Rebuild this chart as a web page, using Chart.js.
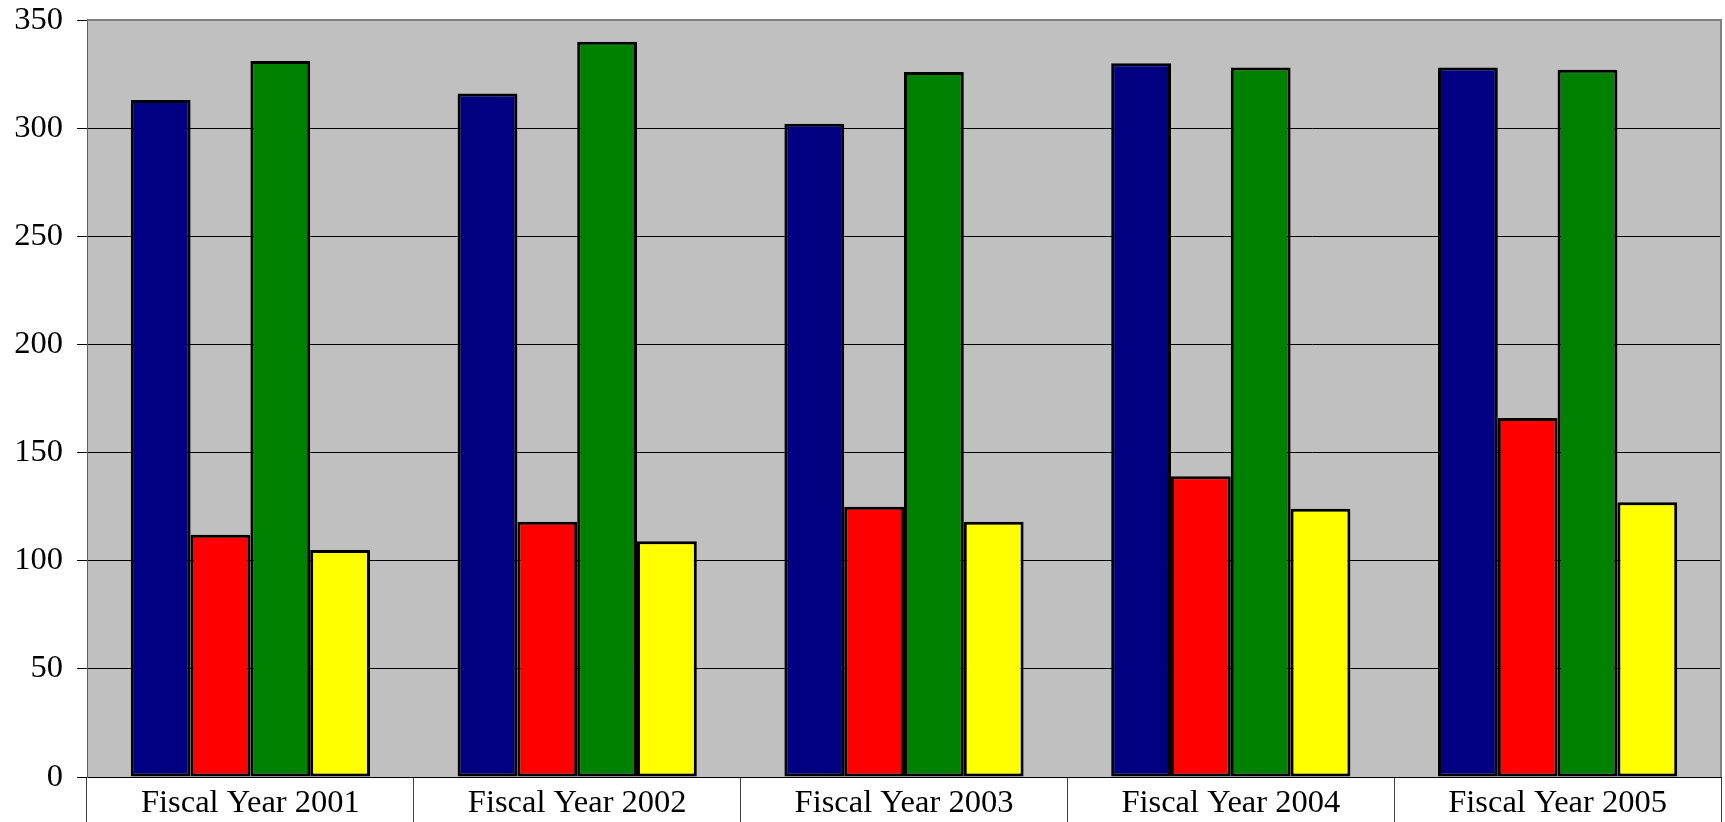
<!DOCTYPE html>
<html>
<head>
<meta charset="utf-8">
<script src="https://cdn.jsdelivr.net/npm/chart.js@4/dist/chart.umd.min.js"></script>
<style>
  html, body { margin: 0; padding: 0; background: #fff; }
  #wrap { width: 1725px; height: 822px; }
</style>
</head>
<body>
<div id="wrap"><canvas id="grafico"></canvas></div>
<script>
const anios = ["Fiscal Year 2001", "Fiscal Year 2002", "Fiscal Year 2003", "Fiscal Year 2004", "Fiscal Year 2005"];
const serieAzul = [313, 316, 302, 330, 328];
const serieRoja = [112, 118, 125, 139, 166];
const serieVerde = [331, 340, 326, 328, 327];
const serieAmarilla = [105, 109, 118, 124, 127];
const ticksY = [0, 50, 100, 150, 200, 250, 300, 350];

const fuente = { family: "'Liberation Serif', 'Times New Roman', serif", size: 32.5 };

const fondoArea = {
  id: "fondoArea",
  beforeDraw(chart) {
    const { ctx, chartArea: a } = chart;
    ctx.save();
    ctx.fillStyle = "#C0C0C0";
    ctx.fillRect(a.left, a.top, a.right - a.left, a.bottom - a.top);
    ctx.restore();
  },
  afterDatasetsDraw(chart) {
    const { ctx, chartArea: a } = chart;
    ctx.save();
    ctx.strokeStyle = "#808080";
    ctx.lineWidth = 2;
    ctx.beginPath();
    ctx.moveTo(a.left, a.top);
    ctx.lineTo(a.right, a.top);
    ctx.lineTo(a.right, a.bottom);
    ctx.stroke();
    ctx.restore();
  }
};

function serie(datos, color) {
  return {
    data: datos,
    backgroundColor: color,
    borderColor: "#000",
    borderWidth: 3,
    borderSkipped: false,
    barPercentage: 1,
    categoryPercentage: 0.732
  };
}

new Chart(document.getElementById("grafico"), {
  type: "bar",
  data: {
    labels: anios,
    datasets: [
      serie(serieAzul, "#000080"),
      serie(serieRoja, "#FF0000"),
      serie(serieVerde, "#008000"),
      serie(serieAmarilla, "#FFFF00")
    ]
  },
  options: {
    responsive: true,
    maintainAspectRatio: false,
    animation: false,
    layout: { padding: { top: 20, right: 4, left: 0, bottom: 0 } },
    plugins: {
      legend: { display: false },
      tooltip: { enabled: false }
    },
    scales: {
      x: {
        offset: true,
        grid: {
          offset: true,
          drawOnChartArea: false,
          drawTicks: true,
          tickLength: 45,
          color: "#404040",
          lineWidth: 1
        },
        border: { color: "#000", width: 1 },
        ticks: { color: "#000", font: fuente, padding: -38, maxRotation: 0 },
        afterFit(scale) { scale.height = 45; }
      },
      y: {
        min: 0,
        max: 350,
        afterBuildTicks(scale) { scale.ticks = ticksY.map(v => ({ value: v })); },
        grid: {
          color: ctx => (ctx.tick && ctx.tick.value === 350 ? "rgba(0,0,0,0)" : "#000"),
          lineWidth: 1,
          tickLength: 10,
          tickColor: "#000"
        },
        border: { color: "#606060", width: 1 },
        ticks: { color: "#000", font: fuente, padding: 14 },
        afterFit(scale) {
          scale.width = 87;
          scale.paddingTop = 0;
          scale.paddingBottom = 0;
        }
      }
    }
  },
  plugins: [fondoArea]
});
</script>
</body>
</html>
